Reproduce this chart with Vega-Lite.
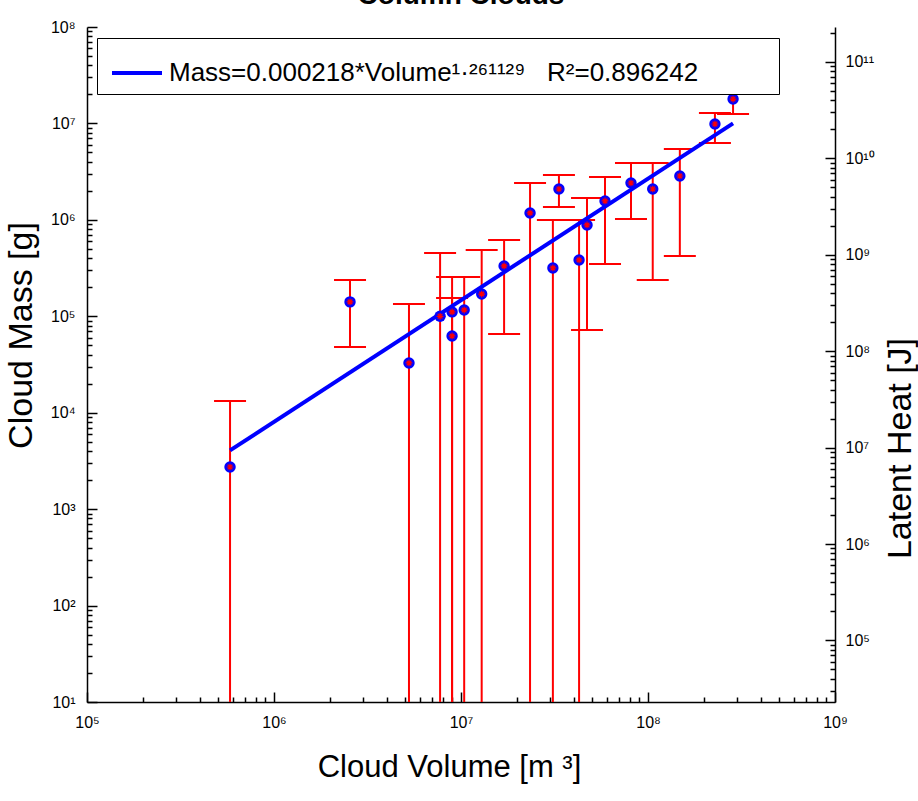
{
  "$schema": "https://vega.github.io/schema/vega-lite/v6.json",
  "width": 748,
  "height": 675,
  "autosize": "none",
  "padding": {"left": 87, "top": 27, "right": 83, "bottom": 99},
  "background": "white",
  "title": {"text": "Column Clouds", "fontSize": 28, "fontWeight": "bold", "font": "Liberation Sans", "color": "black", "anchor": "middle", "baseline": "alphabetic", "offset": -13},
  "config": {
    "view": {"stroke": null},
    "font": "Liberation Sans",
    "axis": {"domainColor": "black", "domainWidth": 1.5, "labelColor": "black", "titleColor": "black", "labelFont": "Liberation Sans", "labelFontSize": 16, "titleFont": "Liberation Sans", "titleFontSize": 34, "titleFontWeight": "normal", "grid": false, "labelOverlap": false, "labelFlush": false}
  },
  "datasets": {
    "obs": [
      {"V": 582000, "M": 2735, "hi": 13200, "lo": 10, "locap": null},
      {"V": 2550000, "M": 141000, "hi": 238000, "lo": 48000, "locap": 48000},
      {"V": 5270000, "M": 32800, "hi": 134000, "lo": 10, "locap": null},
      {"V": 7730000, "M": 100000, "hi": 453000, "lo": 10, "locap": null},
      {"V": 8960000, "M": 111000, "hi": 255000, "lo": 10, "locap": null},
      {"V": 8960000, "M": 62500, "hi": 155000, "lo": 10, "locap": null},
      {"V": 10400000, "M": 116000, "hi": 255000, "lo": 10, "locap": null},
      {"V": 12900000, "M": 170000, "hi": 486000, "lo": 10, "locap": null},
      {"V": 17000000, "M": 333000, "hi": 618000, "lo": 65500, "locap": 65500},
      {"V": 23400000, "M": 1180000, "hi": 2410000, "lo": 10, "locap": null},
      {"V": 31000000, "M": 317000, "hi": 998000, "lo": 10, "locap": null},
      {"V": 33400000, "M": 2090000, "hi": 2920000, "lo": 1360000, "locap": 1360000},
      {"V": 42800000, "M": 384000, "hi": 998000, "lo": 10, "locap": null},
      {"V": 47200000, "M": 885000, "hi": 1690000, "lo": 72100, "locap": 72100},
      {"V": 58900000, "M": 1570000, "hi": 2780000, "lo": 348000, "locap": 348000},
      {"V": 81100000, "M": 2410000, "hi": 3890000, "lo": 1020000, "locap": 1020000},
      {"V": 106000000, "M": 2090000, "hi": 3890000, "lo": 238000, "locap": 238000},
      {"V": 148000000, "M": 2850000, "hi": 5430000, "lo": 422000, "locap": 422000},
      {"V": 228000000, "M": 9860000, "hi": 12800000, "lo": 6270000, "locap": 6270000},
      {"V": 285000000, "M": 17900000, "hi": 23300000, "lo": 12500000, "locap": 12500000}
    ],
    "fit": [
      {"V": 582000, "M": 4064},
      {"V": 285000000, "M": 10020000}
    ],
    "heat": [{"V": 10000000, "H": 1000000}]
  },
  "layer": [
    {
      "data": {"name": "obs"},
      "encoding": {
        "x": {"field": "V", "type": "quantitative", "scale": {"type": "log", "domain": [100000, 1000000000], "nice": false}, "axis": null}
      },
      "layer": [
        {
          "mark": {"type": "rule", "color": "#ff0000", "strokeWidth": 2},
          "encoding": {
            "x": {"field": "V", "type": "quantitative",
              "axis": {"orient": "bottom", "title": "Cloud Volume [m ³]", "titleFontSize": 31, "titlePadding": 22, "titleX": 362, "ticks": false,
                "values": [100000,1000000,10000000,100000000,1000000000],
                "labelExpr": "datum.value==100000?'10⁵':datum.value==1000000?'10⁶':datum.value==10000000?'10⁷':datum.value==100000000?'10⁸':datum.value==1000000000?'10⁹':''",
                "labelPadding": 12}
            },
            "y": {"field": "hi", "type": "quantitative",
              "scale": {"type": "log", "domain": [10, 100000000], "nice": false},
              "axis": {"orient": "left", "title": "Cloud Mass [g]", "titlePadding": 12, "titleY": 308, "ticks": false,
                "values": [10,100,1000,10000,100000,1000000,10000000,100000000],
                "labelExpr": "datum.value==10?'10¹':datum.value==100?'10²':datum.value==1000?'10³':datum.value==10000?'10⁴':datum.value==100000?'10⁵':datum.value==1000000?'10⁶':datum.value==10000000?'10⁷':datum.value==100000000?'10⁸':''",
                "labelPadding": 12}
            },
            "y2": {"field": "lo"}
          }
        },
        {
          "mark": {"type": "tick", "orient": "horizontal", "color": "#ff0000", "size": 32, "thickness": 2, "opacity": 1},
          "encoding": {
            "x": {"field": "V", "type": "quantitative",
              "axis": {"orient": "bottom", "title": null, "labels": false, "domain": false, "ticks": true, "tickSize": 10, "tickColor": "#000000", "tickWidth": 1.5, "tickOpacity": 1, "offset": -10,
                "values": [100000,1000000,10000000,100000000,1000000000]}
            },
            "y": {"field": "hi", "type": "quantitative",
              "axis": {"orient": "left", "title": null, "labels": false, "domain": false, "ticks": true, "tickSize": 10, "tickColor": "#000000", "tickWidth": 1.5, "tickOpacity": 1, "offset": -10,
                "values": [10,100,1000,10000,100000,1000000,10000000,100000000]}
            }
          }
        },
        {
          "mark": {"type": "tick", "orient": "horizontal", "color": "#ff0000", "size": 32, "thickness": 2, "opacity": 1},
          "encoding": {
            "x": {"field": "V", "type": "quantitative",
              "axis": {"orient": "bottom", "title": null, "labels": false, "domain": false, "ticks": true, "tickSize": 5, "tickColor": "#000000", "tickWidth": 1.5, "tickOpacity": 1, "offset": -5,
                "values": [200000,300000,400000,500000,600000,700000,800000,900000,2000000,3000000,4000000,5000000,6000000,7000000,8000000,9000000,20000000,30000000,40000000,50000000,60000000,70000000,80000000,90000000,200000000,300000000,400000000,500000000,600000000,700000000,800000000,900000000]}
            },
            "y": {"field": "locap", "type": "quantitative",
              "axis": {"orient": "left", "title": null, "labels": false, "domain": false, "ticks": true, "tickSize": 5, "tickColor": "#000000", "tickWidth": 1.5, "tickOpacity": 1, "offset": -5,
                "values": [20,30,40,50,60,70,80,90,200,300,400,500,600,700,800,900,2000,3000,4000,5000,6000,7000,8000,9000,20000,30000,40000,50000,60000,70000,80000,90000,200000,300000,400000,500000,600000,700000,800000,900000,2000000,3000000,4000000,5000000,6000000,7000000,8000000,9000000,20000000,30000000,40000000,50000000,60000000,70000000,80000000,90000000]}
            }
          }
        },
        {
          "data": {"name": "fit"},
          "mark": {"type": "line", "strokeWidth": 4},
          "encoding": {
            "y": {"field": "M", "type": "quantitative", "axis": null},
            "color": {"datum": "Mass=0.000218*Volume¹·²⁶¹¹²⁹\u00a0\u00a0\u00a0R²=0.896242\u00a0\u00a0\u00a0\u00a0\u00a0\u00a0\u00a0\u00a0\u00a0\u00a0\u200b", "type": "nominal",
              "scale": {"range": ["#0000ff"]},
              "legend": {"orient": "none", "legendX": 10, "legendY": 11, "title": null, "strokeColor": "black", "fillColor": "white", "padding": 8, "symbolOffset": 5, "symbolType": "stroke", "symbolStrokeWidth": 4, "symbolSize": 2500, "labelFont": "Liberation Sans", "labelFontSize": 26, "labelLimit": 2000, "labelColor": "black", "labelOffset": 5}
            }
          }
        },
        {
          "mark": {"type": "point", "shape": "circle", "filled": true, "color": "#0000ff", "size": 130, "opacity": 1},
          "encoding": {"y": {"field": "M", "type": "quantitative", "axis": null}}
        },
        {
          "mark": {"type": "point", "shape": "M0,-1L0,1M-1,0L1,0M-0.7,-0.7L0.7,0.7M-0.7,0.7L0.7,-0.7", "filled": false, "color": "#ff0000", "size": 45, "strokeWidth": 1.2, "opacity": 1},
          "encoding": {"y": {"field": "M", "type": "quantitative", "axis": null}}
        }
      ],
      "resolve": {"axis": {"x": "independent", "y": "independent"}}
    },
    {
      "data": {"name": "heat"},
      "mark": {"type": "point", "opacity": 0},
      "encoding": {
        "x": {"field": "V", "type": "quantitative", "axis": null},
        "y": {"field": "H", "type": "quantitative",
          "scale": {"type": "log", "domain": [23000, 230000000000], "nice": false},
          "axis": {"orient": "right", "title": "Latent Heat [J]", "titleAngle": 270, "titlePadding": 43, "titleY": 421, "ticks": false,
            "values": [100000,1000000,10000000,100000000,1000000000,10000000000,100000000000],
            "labelExpr": "datum.value==100000?'10⁵':datum.value==1000000?'10⁶':datum.value==10000000?'10⁷':datum.value==100000000?'10⁸':datum.value==1000000000?'10⁹':datum.value==10000000000?'10¹⁰':datum.value==100000000000?'10¹¹':''",
            "labelAlign": "left",
            "labelPadding": 10}
        }
      }
    },
    {
      "data": {"name": "heat"},
      "mark": {"type": "point", "opacity": 0},
      "encoding": {
        "x": {"field": "V", "type": "quantitative", "axis": null},
        "y": {"field": "H", "type": "quantitative",
          "scale": {"type": "log", "domain": [23000, 230000000000], "nice": false},
          "axis": {"orient": "right", "title": null, "labels": false, "domain": false, "ticks": true, "tickSize": 10, "tickColor": "#000000", "tickWidth": 1.5, "tickOpacity": 1, "offset": -10,
            "values": [100000,1000000,10000000,100000000,1000000000,10000000000,100000000000]}
        }
      }
    },
    {
      "data": {"name": "heat"},
      "mark": {"type": "point", "opacity": 0},
      "encoding": {
        "x": {"field": "V", "type": "quantitative", "axis": null},
        "y": {"field": "H", "type": "quantitative",
          "scale": {"type": "log", "domain": [23000, 230000000000], "nice": false},
          "axis": {"orient": "right", "title": null, "labels": false, "domain": false, "ticks": true, "tickSize": 5, "tickColor": "#000000", "tickWidth": 1.5, "tickOpacity": 1, "offset": -5,
            "values": [30000,40000,50000,60000,70000,80000,90000,200000,300000,400000,500000,600000,700000,800000,900000,2000000,3000000,4000000,5000000,6000000,7000000,8000000,9000000,20000000,30000000,40000000,50000000,60000000,70000000,80000000,90000000,200000000,300000000,400000000,500000000,600000000,700000000,800000000,900000000,2000000000,3000000000,4000000000,5000000000,6000000000,7000000000,8000000000,9000000000,20000000000,30000000000,40000000000,50000000000,60000000000,70000000000,80000000000,90000000000,200000000000]}
        }
      }
    }
  ],
  "resolve": {"scale": {"y": "independent"}, "axis": {"x": "independent"}}
}
